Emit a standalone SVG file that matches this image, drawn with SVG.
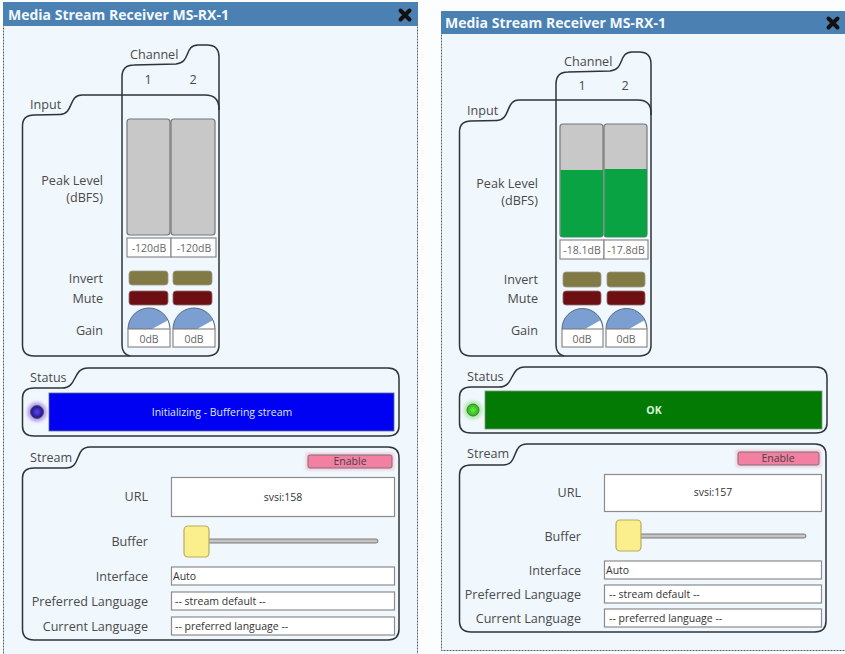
<svg xmlns="http://www.w3.org/2000/svg" width="845" height="654" viewBox="0 0 845 654">
<defs>
<radialGradient id="ledBlue"><stop offset="0" stop-color="#5a48e8"/><stop offset="1" stop-color="#1d0f8c"/></radialGradient>
<radialGradient id="ledGreen"><stop offset="0" stop-color="#62f040"/><stop offset="1" stop-color="#24b818"/></radialGradient>
<filter id="soft" x="-60%" y="-60%" width="220%" height="220%"><feGaussianBlur stdDeviation="1.500"/></filter>
</defs>
<style>
text{font-family:"Open Sans","Noto Sans","Liberation Sans",sans-serif;fill:#4a4a4a;font-size:12.6px}
.r{text-anchor:end}.c{text-anchor:middle}
.title{font-size:14px;font-weight:700;fill:#f4f8fc}
.panel{fill:#f0f7fd;stroke:#55606c;stroke-width:1;stroke-dasharray:2 1}
.bar{fill:#4a80b2}
.box{fill:none;stroke:#2f3438;stroke-width:1.5}
.meter{fill:#c8c8c8;stroke:#777;stroke-width:1.2}
.val{fill:#fff;stroke:#8a8a8a;stroke-width:1.2}
.small{font-size:10.5px;fill:#666}
.inv{fill:#827a45;stroke:#9a9a8a;stroke-width:.8}
.mut{fill:#6e0f14;stroke:#8f6a6a;stroke-width:.8}
.dial{fill:#7a9fd0;stroke:#5a6a80;stroke-width:1}
.wedge{fill:#fff}
.en{fill:#f37fa3;stroke:#777;stroke-width:1}
.enT{font-size:10.5px;fill:#444}
.field{fill:#fff;stroke:#8c8c8c;stroke-width:1.2}
.ft{font-size:10.5px;fill:#333}
.handle{fill:#fbee8c;stroke:#b5ad5c;stroke-width:1.2}
.track{fill:#c4c4c4;stroke:#6f6f6f;stroke-width:.9}
.x{stroke:#111;stroke-width:4;stroke-linecap:round}
.glow{filter:url(#soft)}
</style>
<rect width="845" height="654" fill="#fbfdff"/>
<g id="receiver-left">
<rect class="panel" x="3.500" y="2.500" width="414" height="660"/>
<rect class="bar" x="3" y="2" width="415" height="24"/>
<text class="title" x="8" y="19.500">Media Stream Receiver MS-RX-1</text>
<path class="x" d="M400.500 10.500L409.500 19.500M409.500 10.500L400.500 19.500"/>
<path class="box" d="M22.500 126Q22.500 115 34 115L60 114.500C74 114 68 95 82 95L205 95Q219 95 219 109L219 345Q219 356 207 356L34 356Q22.500 356 22.500 345Z"/>
<path class="box" d="M130 356Q122 354 122 345L122 77Q122 65 134 65L176 64C191 63 184 45 198 45L207 45Q219 45 219 57L219 110"/>
<text x="130" y="59">Channel</text><text x="30" y="109">Input</text>
<text class="c" x="148" y="84">1</text><text class="c" x="193" y="84">2</text>
<text class="r" x="103" y="185">Peak Level</text><text class="r" x="103" y="202">(dBFS)</text>
<text class="r" x="103" y="283">Invert</text><text class="r" x="103" y="303">Mute</text><text class="r" x="103" y="335">Gain</text>
<rect class="meter" x="127" y="119" width="43" height="116" rx="3"/><rect class="meter" x="171" y="119" width="44" height="116" rx="3"/>
<rect class="val" x="127" y="238" width="44" height="19"/><rect class="val" x="171" y="238" width="45" height="19"/>
<text class="small c" x="149" y="252">-120dB</text><text class="small c" x="194" y="252">-120dB</text>
<rect class="inv" x="129" y="271" width="39" height="14" rx="3"/><rect class="inv" x="173" y="271" width="39" height="14" rx="3"/>
<rect class="mut" x="129" y="291" width="39" height="14" rx="3"/><rect class="mut" x="173" y="291" width="39" height="14" rx="3"/>
<path class="dial" d="M128 329A21 21 0 0 1 170 329Z"/><path class="wedge" d="M152 329L167.500 320.500Q169 324 169.500 329Z"/>
<path class="dial" d="M173 329A21 21 0 0 1 215 329Z"/><path class="wedge" d="M197 329L212.500 320.500Q214 324 214.500 329Z"/>
<rect class="val" x="128" y="329" width="42" height="18"/><rect class="val" x="173" y="329" width="42" height="18"/>
<text class="small c" x="149" y="343">0dB</text><text class="small c" x="194" y="343">0dB</text>
<path class="box" d="M22.500 398Q22.500 388 34 388L62 388C78 388 72 368 88 368L388 368Q399 368 399 379L399 426Q399 436 388 436L34 436Q22.500 436 22.500 426Z"/>
<text x="30" y="382">Status</text>
<rect x="49" y="393" width="345" height="38" fill="#0000f2" stroke="#5a6a9a" stroke-width=".8"/>
<text class="c" x="222" y="416" style="fill:#dfe6ff;font-size:10.5px">Initializing - Buffering stream</text>
<circle class="glow" cx="37" cy="412" r="10" fill="#b9a4f0"/><circle cx="37" cy="412" r="6.500" fill="url(#ledBlue)" stroke="#555" stroke-width="1"/>
<path class="box" d="M22.500 478Q22.500 468 34 468L66 468C82 468 74 447 90 447L388 447Q399 447 399 458L399 629Q399 640 388 640L34 640Q22.500 640 22.500 629Z"/>
<text x="30" y="462">Stream</text>
<rect class="glow" x="306" y="453" width="88" height="17" fill="#f3c4d4"/><rect class="en" x="308" y="455" width="84" height="13" rx="2"/><text class="enT c" x="350" y="465">Enable</text>
<text class="r" x="148" y="501">URL</text><text class="r" x="148" y="546">Buffer</text><text class="r" x="148" y="581">Interface</text><text class="r" x="148" y="606">Preferred Language</text><text class="r" x="148" y="631">Current Language</text>
<rect class="field" x="171.500" y="477.500" width="223" height="39"/><text class="ft c" x="283" y="501">svsi:158</text>
<rect class="track" x="205" y="539" width="173" height="4" rx="2"/><rect class="handle" x="184" y="526" width="25" height="31" rx="4"/>
<rect class="field" x="171.500" y="567" width="223" height="18"/><text class="ft" x="173" y="580">Auto</text>
<rect class="field" x="171.500" y="592" width="223" height="18"/><text class="ft" x="175" y="605">-- stream default --</text>
<rect class="field" x="171.500" y="617" width="223" height="18"/><text class="ft" x="175" y="630">-- preferred language --</text>
</g>
<g id="receiver-right">
<rect class="panel" x="441.500" y="11.500" width="410" height="639"/>
<rect class="bar" x="441" y="11" width="404" height="23"/>
<text class="title" x="445" y="28">Media Stream Receiver MS-RX-1</text>
<path class="x" d="M828.500 18.500L837.500 27.500M837.500 18.500L828.500 27.500"/>
<path class="box" d="M459.500 132Q459.500 121 471 121L497 120.500C511 120 505 100 519 100L638 100Q651 100 651 113L651 345Q651 356 639 356L471 356Q459.500 356 459.500 345Z"/>
<path class="box" d="M564 356Q556 354 556 345L556 84Q556 72 568 72L610 71C625 70 618 52 632 52L639 52Q651 52 651 64L651 115"/>
<text x="564" y="66">Channel</text><text x="467" y="115">Input</text>
<text class="c" x="582" y="90">1</text><text class="c" x="625" y="90">2</text>
<text class="r" x="538" y="188">Peak Level</text><text class="r" x="538" y="205">(dBFS)</text>
<text class="r" x="538" y="284">Invert</text><text class="r" x="538" y="303">Mute</text><text class="r" x="538" y="335">Gain</text>
<rect class="meter" x="560" y="124" width="43" height="113" rx="3"/><rect class="meter" x="604" y="124" width="43" height="113" rx="3"/>
<path d="M560.500 170H603V234Q603 237 600 237H563.500Q560.500 237 560.500 234Z" fill="#0aa344"/>
<path d="M604.500 169H647V234Q647 237 644 237H607.500Q604.500 237 604.500 234Z" fill="#0aa344"/>
<rect class="val" x="560" y="240" width="44" height="19"/><rect class="val" x="604" y="240" width="44" height="19"/>
<text class="small c" x="582" y="254">-18.1dB</text><text class="small c" x="626" y="254">-17.8dB</text>
<rect class="inv" x="563" y="272" width="38" height="15" rx="3"/><rect class="inv" x="607" y="272" width="38" height="15" rx="3"/>
<rect class="mut" x="563" y="291" width="38" height="14" rx="3"/><rect class="mut" x="607" y="291" width="38" height="14" rx="3"/>
<path class="dial" d="M562 329A20.500 20.500 0 0 1 603 329Z"/><path class="wedge" d="M585 329L600 320.500Q602 324 602.500 329Z"/>
<path class="dial" d="M606 329A20.500 20.500 0 0 1 647 329Z"/><path class="wedge" d="M629 329L644 320.500Q646 324 646.500 329Z"/>
<rect class="val" x="562" y="329" width="41" height="18"/><rect class="val" x="606" y="329" width="41" height="18"/>
<text class="small c" x="582" y="343">0dB</text><text class="small c" x="626" y="343">0dB</text>
<path class="box" d="M459.500 397Q459.500 387 471 387L499 387C515 387 509 367 525 367L816 367Q827 367 827 378L827 423Q827 433 816 433L471 433Q459.500 433 459.500 423Z"/>
<text x="467" y="381">Status</text>
<rect x="485" y="391" width="337" height="38" fill="#037a03" stroke="#7a9a7a" stroke-width=".8"/>
<text class="c" x="654" y="414" style="fill:#d8f5d8;font-size:10.5px;font-weight:700">OK</text>
<circle class="glow" cx="473" cy="410" r="9.500" fill="#b4eeb0"/><circle cx="473" cy="410" r="6" fill="url(#ledGreen)" stroke="#5a6a50" stroke-width="1"/>
<path class="box" d="M459.500 475Q459.500 465 471 465L503 465C519 465 511 444 527 444L815 444Q826 444 826 455L826 621Q826 632 815 632L471 632Q459.500 632 459.500 621Z"/>
<text x="467" y="458">Stream</text>
<rect class="glow" x="736" y="450" width="85" height="17" fill="#f3c4d4"/><rect class="en" x="738" y="452" width="81" height="13" rx="2"/><text class="enT c" x="778" y="462">Enable</text>
<text class="r" x="581" y="497">URL</text><text class="r" x="581" y="541">Buffer</text><text class="r" x="581" y="575">Interface</text><text class="r" x="581" y="599">Preferred Language</text><text class="r" x="581" y="623">Current Language</text>
<rect class="field" x="604.500" y="474.500" width="217" height="37"/><text class="ft c" x="713" y="496">svsi:157</text>
<rect class="track" x="636" y="534" width="170" height="4" rx="2"/><rect class="handle" x="616" y="520" width="25" height="31" rx="4"/>
<rect class="field" x="604.500" y="561" width="217" height="18"/><text class="ft" x="606" y="574">Auto</text>
<rect class="field" x="604.500" y="585" width="217" height="18"/><text class="ft" x="609" y="598">-- stream default --</text>
<rect class="field" x="604.500" y="609" width="217" height="18"/><text class="ft" x="609" y="622">-- preferred language --</text>
</g>
<g id="connectors"/>
</svg>
